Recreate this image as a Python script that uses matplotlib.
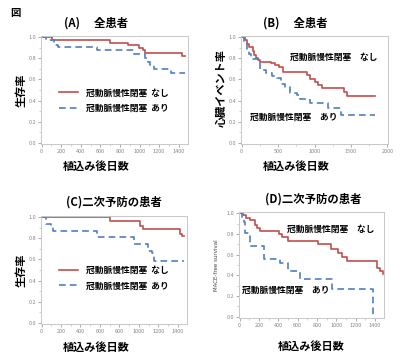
import matplotlib
matplotlib.use('agg')
from matplotlib import pyplot as plt, ticker

plt.rcParams['font.family'] = ['Noto Sans CJK JP', 'DejaVu Sans']

RED = '#c0504d'
BLUE = '#4f7fc0'
label_none = '冠動脈慢性閉塞　なし'
label_cto = '冠動脈慢性閉塞　あり'

# (A) 全患者 survival
a_none_t = [0, 110, 700, 880, 990, 1035, 1060, 1435, 1460]
a_none_s = [1.0, 0.97, 0.95, 0.925, 0.90, 0.875, 0.85, 0.82, 0.82]
a_cto_t = [0, 50, 130, 165, 570, 940, 1060, 1085, 1110, 1150, 1320, 1460]
a_cto_s = [1.0, 0.97, 0.93, 0.905, 0.875, 0.845, 0.80, 0.77, 0.735, 0.70, 0.66, 0.66]

# (B) 全患者 cardiac event
b_none_t = [0, 40, 70, 105, 150, 175, 200, 220, 255, 400, 465, 510, 570, 900, 940, 1005, 1050, 1100, 1410, 1450, 1835]
b_none_s = [1.0, 0.97, 0.94, 0.91, 0.87, 0.83, 0.80, 0.78, 0.77, 0.755, 0.74, 0.715, 0.67, 0.64, 0.60, 0.58, 0.55, 0.52, 0.485, 0.445, 0.445]
b_cto_t = [0, 35, 70, 95, 125, 255, 330, 420, 490, 535, 600, 670, 760, 805, 940, 1190, 1370, 1835]
b_cto_s = [1.0, 0.95, 0.88, 0.84, 0.79, 0.685, 0.66, 0.63, 0.61, 0.56, 0.525, 0.47, 0.455, 0.41, 0.375, 0.33, 0.26, 0.26]

# (C) 二次予防の患者 survival
c_none_t = [0, 700, 1015, 1040, 1420, 1440, 1460]
c_none_s = [1.0, 0.96, 0.92, 0.885, 0.84, 0.825, 0.825]
c_cto_t = [0, 45, 95, 122, 567, 948, 1090, 1133, 1157, 1460]
c_cto_s = [1.0, 0.94, 0.92, 0.87, 0.81, 0.745, 0.68, 0.66, 0.59, 0.59]

# (D) 二次予防の患者 MACE-free
d_none_t = [0, 38, 62, 103, 158, 182, 209, 405, 440, 497, 816, 943, 1022, 1063, 1108, 1424, 1458, 1480]
d_none_s = [1.0, 0.98, 0.955, 0.93, 0.89, 0.86, 0.83, 0.80, 0.77, 0.735, 0.70, 0.655, 0.615, 0.58, 0.54, 0.47, 0.44, 0.41]
d_cto_t = [0, 27, 45, 55, 113, 250, 422, 497, 628, 961, 1382]
d_cto_s = [1.0, 0.95, 0.92, 0.81, 0.685, 0.555, 0.515, 0.44, 0.36, 0.27, 0.0]

W, H = 400, 357
fig = plt.figure(figsize=(W / 100, H / 100), dpi=100)


def make_ax(x0, y0, x1, y1):
    ax = fig.add_axes([x0 / W, 1 - y1 / H, (x1 - x0) / W, (y1 - y0) / H])
    for sp in ax.spines.values():
        sp.set_color('#c8c8c8')
        sp.set_linewidth(0.7)
    ax.tick_params(labelsize=4, colors='#888888', length=2, width=0.5, pad=1.5)
    ax.tick_params(which='minor', length=1.2, width=0.4, colors='#aaaaaa')
    ax.set_ylim(-0.012, 1.012)
    ax.yaxis.set_major_locator(ticker.MultipleLocator(0.2))
    ax.yaxis.set_major_formatter(ticker.FormatStrFormatter('%.1f'))
    ax.yaxis.set_minor_locator(ticker.MultipleLocator(0.1))
    return ax


def curves(ax, t1, s1, t2, s2):
    ax.step(t1, s1, where='post', color=RED, lw=1.2)
    ax.step(t2, s2, where='post', color=BLUE, lw=1.2, linestyle=(0, (4, 2.5)))


def xaxis1500(ax):
    ax.set_xlim(-6, 1495)
    ax.xaxis.set_major_locator(ticker.MultipleLocator(200))
    ax.xaxis.set_minor_locator(ticker.MultipleLocator(100))


title_kw = dict(fontsize=8.2, fontweight='bold', ha='center', va='center')
lab_kw = dict(fontsize=8, fontweight='bold')
note_kw = dict(fontsize=6.3, fontweight='bold', ha='center', va='center')

fig.text(15 / W, 1 - 13 / H, '図', fontsize=7.5, fontweight='bold', ha='center', va='center')

# A
ax = make_ax(41, 36, 188, 144)
curves(ax, a_none_t, a_none_s, a_cto_t, a_cto_s)
xaxis1500(ax)
fig.text(96 / W, 1 - 23 / H, '(A)　 全患者', **title_kw)
fig.text(96 / W, 1 - 166 / H, '植込み後日数', ha='center', va='center', **lab_kw)
fig.text(21 / W, 1 - 90 / H, '生存率', rotation=90, ha='center', va='center', **lab_kw)
ax.legend(['冠動脈慢性閉塞  なし', '冠動脈慢性閉塞  あり'], loc='center left',
          bbox_to_anchor=(0.07, 0.4), frameon=False, prop=dict(size=6.3, weight='bold'),
          handlelength=2.2, handletextpad=0.9, labelspacing=0.75)

# B
ax = make_ax(241, 36, 388, 144)
curves(ax, b_none_t, b_none_s, b_cto_t, b_cto_s)
ax.set_xlim(-8, 2008)
ax.xaxis.set_major_locator(ticker.MultipleLocator(500))
ax.xaxis.set_minor_locator(ticker.MultipleLocator(250))
fig.text(295 / W, 1 - 23 / H, '(B)　 全患者', **title_kw)
fig.text(296 / W, 1 - 166 / H, '植込み後日数', ha='center', va='center', **lab_kw)
fig.text(221 / W, 1 - 88 / H, '心臓イベント率', rotation=90, ha='center', va='center', **lab_kw)
ax.text(0.63, 0.80, label_none, transform=ax.transAxes, **note_kw)
ax.text(0.36, 0.25, label_cto, transform=ax.transAxes, **note_kw)

# C
ax = make_ax(41, 216, 187, 324)
curves(ax, c_none_t, c_none_s, c_cto_t, c_cto_s)
xaxis1500(ax)
fig.text(114 / W, 1 - 202 / H, '(C)二次予防の患者', **title_kw)
fig.text(96 / W, 1 - 347 / H, '植込み後日数', ha='center', va='center', **lab_kw)
fig.text(21 / W, 1 - 270 / H, '生存率', rotation=90, ha='center', va='center', **lab_kw)
ax.legend(['冠動脈慢性閉塞  なし', '冠動脈慢性閉塞  あり'], loc='center left',
          bbox_to_anchor=(0.07, 0.425), frameon=False, prop=dict(size=6.3, weight='bold'),
          handlelength=2.2, handletextpad=0.9, labelspacing=0.75)

# D
ax = make_ax(239, 212, 384, 318)
curves(ax, d_none_t, d_none_s, d_cto_t, d_cto_s)
xaxis1500(ax)
fig.text(313 / W, 1 - 199 / H, '(D)二次予防の患者', **title_kw)
fig.text(311 / W, 1 - 346 / H, '植込み後日数', ha='center', va='center', **lab_kw)
fig.text(216 / W, 1 - 265 / H, 'MACE-free survival', rotation=90, ha='center', va='center',
         fontsize=4, color='#444444', family='DejaVu Sans')
ax.text(0.63, 0.84, label_none, transform=ax.transAxes, **note_kw)
ax.text(0.32, 0.26, label_cto, transform=ax.transAxes, **note_kw)

fig.savefig('out.png', dpi=100, facecolor='white')
